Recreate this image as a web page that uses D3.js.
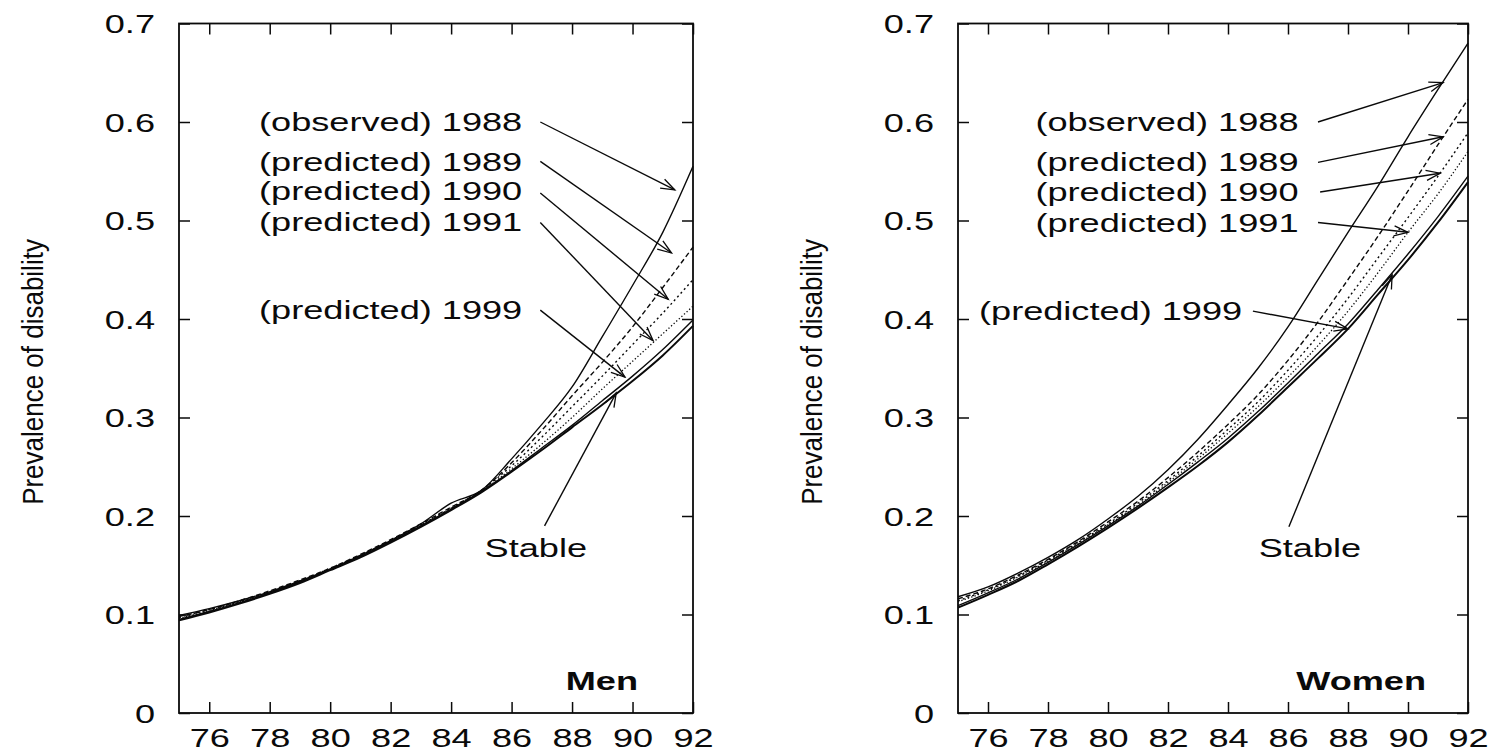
<!DOCTYPE HTML>
<html>

<head>
  <meta charset="UTF-8">
  <title>Prevalence of disability by age - Men and Women</title>
  <script src="https://cdn.jsdelivr.net/npm/d3@7"></script>
  <style>
    body { margin: 0; background: #fff; }
    svg { display: block; background: #fff; }
    text { font-family: "Liberation Sans", Arial, Helvetica, sans-serif; fill: #0a0a0a; }
  </style>
</head>

<body>
<script>
  // Age (x) and tick values.
  const ages = [75, 76, 77, 78, 79, 80, 81, 82, 83, 84, 85, 86, 87, 88, 89, 90, 91, 92];
  const xTicks = [76, 78, 80, 82, 84, 86, 88, 90, 92];
  const yTicks = [0, 0.1, 0.2, 0.3, 0.4, 0.5, 0.6, 0.7];

  // Men, prevalence of disability by age.
  const menObserved = [0.099, 0.106, 0.114, 0.123, 0.134, 0.146, 0.160, 0.175, 0.192, 0.213, 0.226, 0.258, 0.293, 0.331, 0.382, 0.434, 0.488, 0.555];
  const menPred1989 = [0.098, 0.105, 0.114, 0.124, 0.135, 0.147, 0.161, 0.176, 0.192, 0.209, 0.226, 0.254, 0.287, 0.322, 0.356, 0.392, 0.432, 0.473];
  const menPred1990 = [0.097, 0.105, 0.113, 0.123, 0.134, 0.147, 0.160, 0.175, 0.191, 0.208, 0.226, 0.251, 0.280, 0.311, 0.342, 0.374, 0.406, 0.440];
  const menPred1991 = [0.096, 0.104, 0.113, 0.123, 0.134, 0.146, 0.160, 0.175, 0.191, 0.208, 0.225, 0.248, 0.273, 0.300, 0.329, 0.357, 0.385, 0.413];
  const menPred1999 = [0.095, 0.103, 0.112, 0.122, 0.133, 0.146, 0.159, 0.174, 0.190, 0.207, 0.225, 0.246, 0.269, 0.292, 0.317, 0.342, 0.369, 0.399];
  const menStable   = [0.094, 0.102, 0.111, 0.121, 0.132, 0.145, 0.158, 0.173, 0.189, 0.206, 0.224, 0.245, 0.267, 0.290, 0.313, 0.337, 0.363, 0.393];

  // Women.
  const womenObserved = [0.118, 0.128, 0.142, 0.158, 0.176, 0.197, 0.220, 0.247, 0.278, 0.313, 0.350, 0.392, 0.440, 0.488, 0.535, 0.585, 0.633, 0.680];
  const womenPred1989 = [0.116, 0.126, 0.140, 0.156, 0.174, 0.194, 0.215, 0.239, 0.265, 0.293, 0.323, 0.358, 0.397, 0.440, 0.484, 0.530, 0.577, 0.623];
  const womenPred1990 = [0.114, 0.125, 0.139, 0.155, 0.173, 0.192, 0.213, 0.236, 0.261, 0.288, 0.316, 0.348, 0.383, 0.421, 0.462, 0.503, 0.545, 0.589];
  const womenPred1991 = [0.113, 0.124, 0.138, 0.154, 0.172, 0.191, 0.211, 0.234, 0.258, 0.284, 0.311, 0.341, 0.373, 0.408, 0.447, 0.488, 0.527, 0.570];
  const womenPred1999 = [0.109, 0.122, 0.136, 0.153, 0.171, 0.190, 0.210, 0.232, 0.255, 0.279, 0.306, 0.335, 0.365, 0.395, 0.430, 0.466, 0.504, 0.545];
  const womenStable   = [0.107, 0.120, 0.134, 0.151, 0.169, 0.188, 0.208, 0.229, 0.251, 0.275, 0.302, 0.331, 0.360, 0.390, 0.425, 0.460, 0.498, 0.539];

  // Annotation labels, in data units (age, prevalence).
  const labelTexts = ['(observed) 1988', '(predicted) 1989', '(predicted) 1990', '(predicted) 1991', '(predicted) 1999'];
  const menLabelY = [0.600, 0.560, 0.530, 0.499, 0.409];
  const menLabelEnd = [86.35, 86.35, 86.35, 86.35, 86.35];
  const menArrowFrom = [[86.95, 0.600], [86.95, 0.560], [86.95, 0.528], [86.95, 0.498], [86.95, 0.409]];
  const menArrowTo = [[91.40, 0.531], [91.29, 0.467], [91.18, 0.420], [90.68, 0.378], [89.75, 0.341]];
  const menStableLabel = [86.8, 0.168];
  const menStableArrow = [[87.09, 0.190], [89.46, 0.325]];

  const womenLabelY = [0.600, 0.559, 0.529, 0.498, 0.408];
  const womenLabelEnd = [86.35, 86.35, 86.35, 86.35, 84.47];
  const womenArrowFrom = [[87.00, 0.600], [87.00, 0.559], [87.07, 0.529], [87.00, 0.498], [84.83, 0.408]];
  const womenArrowTo = [[91.17, 0.640], [91.17, 0.585], [91.07, 0.548], [90.00, 0.488], [88.00, 0.390]];
  const womenStableLabel = [86.73, 0.168];
  const womenStableArrow = [[86.03, 0.189], [89.47, 0.445]];

  //
  // Canvas and shared settings.
  //
  const w = 1498;
  const h = 754;
  const plotTop = 23.5;
  const plotBottom = 713;
  const stretch = 1.39;   // the scanned figure is wide, so text is stretched sideways
  const fontSize = 26;
  const ink = '#0a0a0a';

  // Line style per series: observed, 1989, 1990, 1991, 1999, stable
  const styles = [
    { width: 1.4, dash: null },
    { width: 1.4, dash: '5,3' },
    { width: 1.4, dash: '2,3' },
    { width: 1.3, dash: '1.3,2.2' },
    { width: 1.4, dash: null },
    { width: 2.0, dash: null }
  ];

  const panels = [
    {
      tag: 'Men', left: 179, right: 693, tagRight: 638, titleX: 33,
      series: [menObserved, menPred1989, menPred1990, menPred1991, menPred1999, menStable],
      labelY: menLabelY, labelEnd: menLabelEnd, arrowFrom: menArrowFrom, arrowTo: menArrowTo,
      stableLabel: menStableLabel, stableArrow: menStableArrow
    },
    {
      tag: 'Women', left: 958, right: 1468, tagRight: 1426, titleX: 812,
      series: [womenObserved, womenPred1989, womenPred1990, womenPred1991, womenPred1999, womenStable],
      labelY: womenLabelY, labelEnd: womenLabelEnd, arrowFrom: womenArrowFrom, arrowTo: womenArrowTo,
      stableLabel: womenStableLabel, stableArrow: womenStableArrow
    }
  ];

  const svg = d3.select('body')
    .append('svg')
    .attr('width', w)
    .attr('height', h);

  // Open arrow head used by all annotation arrows.
  svg.append('defs')
    .append('marker')
    .attr('id', 'head')
    .attr('viewBox', '-15 -7 17 14')
    .attr('refX', 0)
    .attr('refY', 0)
    .attr('markerWidth', 17)
    .attr('markerHeight', 14)
    .attr('markerUnits', 'userSpaceOnUse')
    .attr('orient', 'auto')
    .append('path')
    .attr('d', 'M-14,-5L0,0L-14,5')
    .attr('fill', 'none')
    .attr('stroke', ink)
    .attr('stroke-width', 1.3);

  function drawPanel(p) {
    const xScale = d3.scaleLinear().domain([75, 92]).range([p.left, p.right]);
    const yScale = d3.scaleLinear().domain([0, 0.7]).range([plotBottom, plotTop]);
    const g = svg.append('g');

    // Inward ticks on all four sides; labels only left and bottom.
    const leftAxis = g.append('g')
      .attr('transform', 'translate(' + p.left + ',0)')
      .call(d3.axisLeft(yScale).tickValues(yTicks).tickSize(-11).tickFormat(d3.format('')));
    leftAxis.attr('font-size', fontSize);
    leftAxis.selectAll('text')
      .attr('x', 0)
      .attr('dy', '0.35em')
      .attr('transform', 'translate(-24,0) scale(' + stretch + ',1)');

    // Bottom labels sit right at the lower edge, as in the source figure.
    const bottomAxis = g.append('g')
      .attr('transform', 'translate(0,' + plotBottom + ')')
      .call(d3.axisBottom(xScale).tickValues(xTicks).tickSize(-11).tickFormat(d3.format('')));
    bottomAxis.attr('font-size', fontSize);
    bottomAxis.selectAll('text')
      .attr('y', 0)
      .attr('dy', null)
      .attr('transform', 'translate(0,34) scale(' + stretch + ',1)');

    g.append('g')
      .attr('transform', 'translate(' + p.right + ',0)')
      .call(d3.axisRight(yScale).tickValues(yTicks).tickSize(-11).tickFormat(''));

    g.append('g')
      .attr('transform', 'translate(0,' + plotTop + ')')
      .call(d3.axisTop(xScale).tickValues(xTicks).tickSize(-11).tickFormat(''));

    g.selectAll('.domain').remove();
    g.selectAll('.tick line').attr('stroke', ink).attr('stroke-width', 1.5);

    // Frame
    g.append('rect')
      .attr('x', p.left)
      .attr('y', plotTop)
      .attr('width', p.right - p.left)
      .attr('height', plotBottom - plotTop)
      .attr('fill', 'none')
      .attr('stroke', ink)
      .attr('stroke-width', 1.8);

    // Curves
    const line = d3.line()
      .x((d, i) => xScale(ages[i]))
      .y(d => yScale(d))
      .curve(d3.curveMonotoneX);

    g.selectAll('path.curve')
      .data(p.series)
      .enter()
      .append('path')
      .attr('class', 'curve')
      .attr('d', d => line(d))
      .attr('fill', 'none')
      .attr('stroke', ink)
      .attr('stroke-width', (d, i) => styles[i].width)
      .attr('stroke-dasharray', (d, i) => styles[i].dash);

    // Annotation labels and arrows
    labelTexts.forEach((t, i) => {
      g.append('text')
        .attr('transform', 'translate(' + xScale(p.labelEnd[i]) + ',' + yScale(p.labelY[i]) + ') scale(' + stretch + ',1)')
        .attr('dy', '0.35em')
        .attr('text-anchor', 'end')
        .attr('font-size', fontSize)
        .text(t);

      g.append('line')
        .attr('x1', xScale(p.arrowFrom[i][0]))
        .attr('y1', yScale(p.arrowFrom[i][1]))
        .attr('x2', xScale(p.arrowTo[i][0]))
        .attr('y2', yScale(p.arrowTo[i][1]))
        .attr('stroke', ink)
        .attr('stroke-width', 1.4)
        .attr('marker-end', 'url(#head)');
    });

    g.append('text')
      .attr('transform', 'translate(' + xScale(p.stableLabel[0]) + ',' + yScale(p.stableLabel[1]) + ') scale(' + stretch + ',1)')
      .attr('dy', '0.35em')
      .attr('text-anchor', 'middle')
      .attr('font-size', fontSize)
      .text('Stable');

    g.append('line')
      .attr('x1', xScale(p.stableArrow[0][0]))
      .attr('y1', yScale(p.stableArrow[0][1]))
      .attr('x2', xScale(p.stableArrow[1][0]))
      .attr('y2', yScale(p.stableArrow[1][1]))
      .attr('stroke', ink)
      .attr('stroke-width', 1.4)
      .attr('marker-end', 'url(#head)');

    // Panel tag (Men / Women)
    g.append('text')
      .attr('transform', 'translate(' + p.tagRight + ',690) scale(' + stretch + ',1)')
      .attr('text-anchor', 'end')
      .attr('font-size', fontSize)
      .attr('font-weight', 'bold')
      .text(p.tag);

    // Y axis title (rotated, so the sideways stretch widens the letters)
    g.append('text')
      .attr('transform', 'translate(' + p.titleX + ',372) scale(1.15,1) rotate(-90)')
      .attr('dy', '0.35em')
      .attr('text-anchor', 'middle')
      .attr('font-size', fontSize)
      .text('Prevalence of disability');
  }

  panels.forEach(drawPanel);
</script>
</body>

</html>
